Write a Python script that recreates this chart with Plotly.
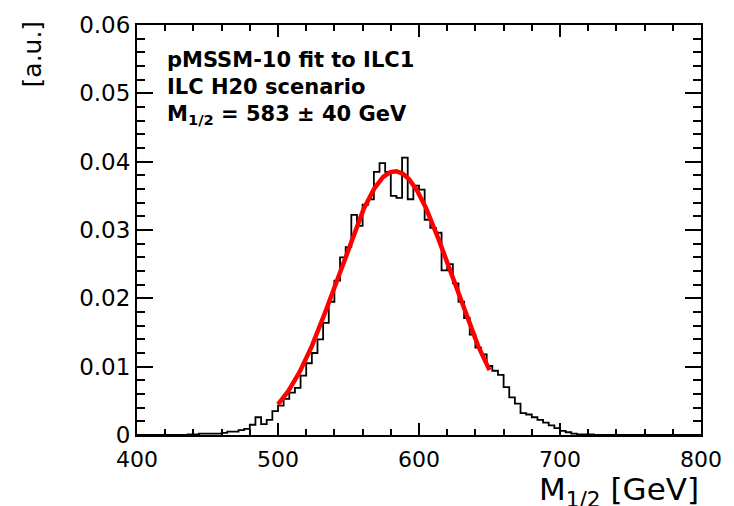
import numpy as np
import plotly.graph_objects as go

# Histogram of M_1/2 from the pMSSM-10 fit (4 GeV bins from 400 to 800 GeV)
bin_lo = 400.0
bin_width = 4.0
counts = [
    0, 0, 0, 0, 0, 0, 0, 0, 0,                                  # 400-436
    0.0001, 0.0001, 0.0002, 0.0002, 0.0002, 0.0002,             # 436-460
    0.0003, 0.0005, 0.0005, 0.0007, 0.0009,                     # 460-480
    0.0015, 0.0026, 0.0016, 0.0022, 0.0035,                     # 480-500
    0.0043, 0.0053, 0.0062, 0.0069, 0.0087,                     # 500-520
    0.0105, 0.0120, 0.0140, 0.0164, 0.0195,                     # 520-540
    0.0226, 0.0260, 0.0275, 0.0322, 0.0306,                     # 540-560
    0.0337, 0.0345, 0.0385, 0.0398, 0.0385,                     # 560-580
    0.0350, 0.0347, 0.0406, 0.0345, 0.0365,                     # 580-600
    0.0359, 0.0315, 0.0303, 0.0296, 0.0241,                     # 600-620
    0.0250, 0.0222, 0.0195, 0.0171, 0.0147,                     # 620-640
    0.0128, 0.0118, 0.0101, 0.0094, 0.0088,                     # 640-660
    0.0070, 0.0055, 0.0046, 0.0032, 0.0030,                     # 660-680
    0.0026, 0.0022, 0.0018, 0.0014, 0.0010,                     # 680-700
    0.0006, 0.0004, 0.0002, 0.0001, 0.0001,                     # 700-720
    0.0001, 0, 0, 0, 0,                                         # 720-740
    0, 0, 0, 0, 0, 0, 0, 0, 0, 0, 0, 0, 0, 0, 0,                # 740-800
]

# Gaussian fit result
fit_amp = 0.0386
fit_mean = 583.0
fit_sigma = 40.0
fit_range = (500.0, 650.0)

x_range = [400, 800]
y_range = [0, 0.06]
x_ticks = [400, 500, 600, 700, 800]
y_ticks = [0, 0.01, 0.02, 0.03, 0.04, 0.05, 0.06]
y_ticktext = ["0", "0.01", "0.02", "0.03", "0.04", "0.05", "0.06"]

info_lines = [
    "pMSSM-10 fit to ILC1",
    "ILC H20 scenario",
    "M<sub>1/2</sub> = 583 \u00b1 40 GeV",
]

FONT = "DejaVu Sans, Liberation Sans, Arial, sans-serif"

edges = bin_lo + bin_width * np.arange(len(counts) + 1)
step_y = list(counts) + [counts[-1]]

xf = np.linspace(fit_range[0], fit_range[1], 300)
yf = fit_amp * np.exp(-0.5 * ((xf - fit_mean) / fit_sigma) ** 2)

fig = go.Figure()
fig.add_trace(go.Scatter(
    x=edges, y=step_y, mode="lines", line=dict(color="black", width=1.8, shape="hv"),
    hoverinfo="skip", showlegend=False,
))
fig.add_trace(go.Scatter(
    x=xf, y=yf, mode="lines", line=dict(color="#ff0000", width=4.5),
    hoverinfo="skip", showlegend=False,
))

x_tick_style = dict(
    range=x_range, tickmode="array", tickvals=x_ticks,
    showline=True, linecolor="black", linewidth=2, mirror="ticks",
    ticks="inside", ticklen=12, tickwidth=2, tickcolor="black",
    minor=dict(tickmode="linear", tick0=400, dtick=20, ticks="inside",
               ticklen=6, tickwidth=1.5, tickcolor="black", showgrid=False),
    showgrid=False, zeroline=False,
)
y_tick_style = dict(
    range=y_range, tickmode="array", tickvals=y_ticks, ticktext=y_ticktext,
    showline=True, linecolor="black", linewidth=2, mirror="ticks",
    ticks="inside", ticklen=16, tickwidth=2, tickcolor="black",
    minor=dict(tickmode="linear", tick0=0, dtick=0.002, ticks="inside",
               ticklen=8, tickwidth=1.5, tickcolor="black", showgrid=False),
    showgrid=False, zeroline=False,
)

annotations = []
line_y = [55, 83, 111]
for line, ypix in zip(info_lines, line_y):
    annotations.append(dict(
        x=(165 - 137) / 569, xref="paper",
        y=(435 - ypix) / 415, yref="paper",
        xanchor="left", yanchor="middle",
        text="<b>" + line + "</b>", showarrow=False,
        font=dict(family=FONT, size=21, color="black"),
    ))

# axis titles
annotations.append(dict(
    x=1.0, xref="paper", y=-0.082, yref="paper",
    xanchor="right", yanchor="top",
    text="M<sub>1/2</sub> [GeV]", showarrow=False,
    font=dict(family=FONT, size=31, color="black"),
))
annotations.append(dict(
    x=-0.186, xref="paper", y=1.015, yref="paper",
    xanchor="center", yanchor="top", textangle=-90,
    text="[a.u.]", showarrow=False,
    font=dict(family=FONT, size=25, color="black"),
))

fig.update_layout(
    width=734, height=506,
    margin=dict(l=137, r=28, t=20, b=71),
    paper_bgcolor="white", plot_bgcolor="white",
    annotations=annotations,
    # main axes carry the labels; their tick marks are mirrored onto top/right
    xaxis=dict(ticklabelstandoff=4,
               tickfont=dict(family=FONT, size=22, color="black"), **x_tick_style),
    yaxis=dict(tickfont=dict(family=FONT, size=23, color="black"), **y_tick_style),
    # companion axes on top/right whose mirrored tick marks land on bottom/left
    xaxis2=dict(side="top", overlaying="x", anchor="y", showticklabels=False,
                **x_tick_style),
    yaxis2=dict(side="right", overlaying="y", anchor="x", showticklabels=False,
                **y_tick_style),
)

fig.write_html("out.html")
